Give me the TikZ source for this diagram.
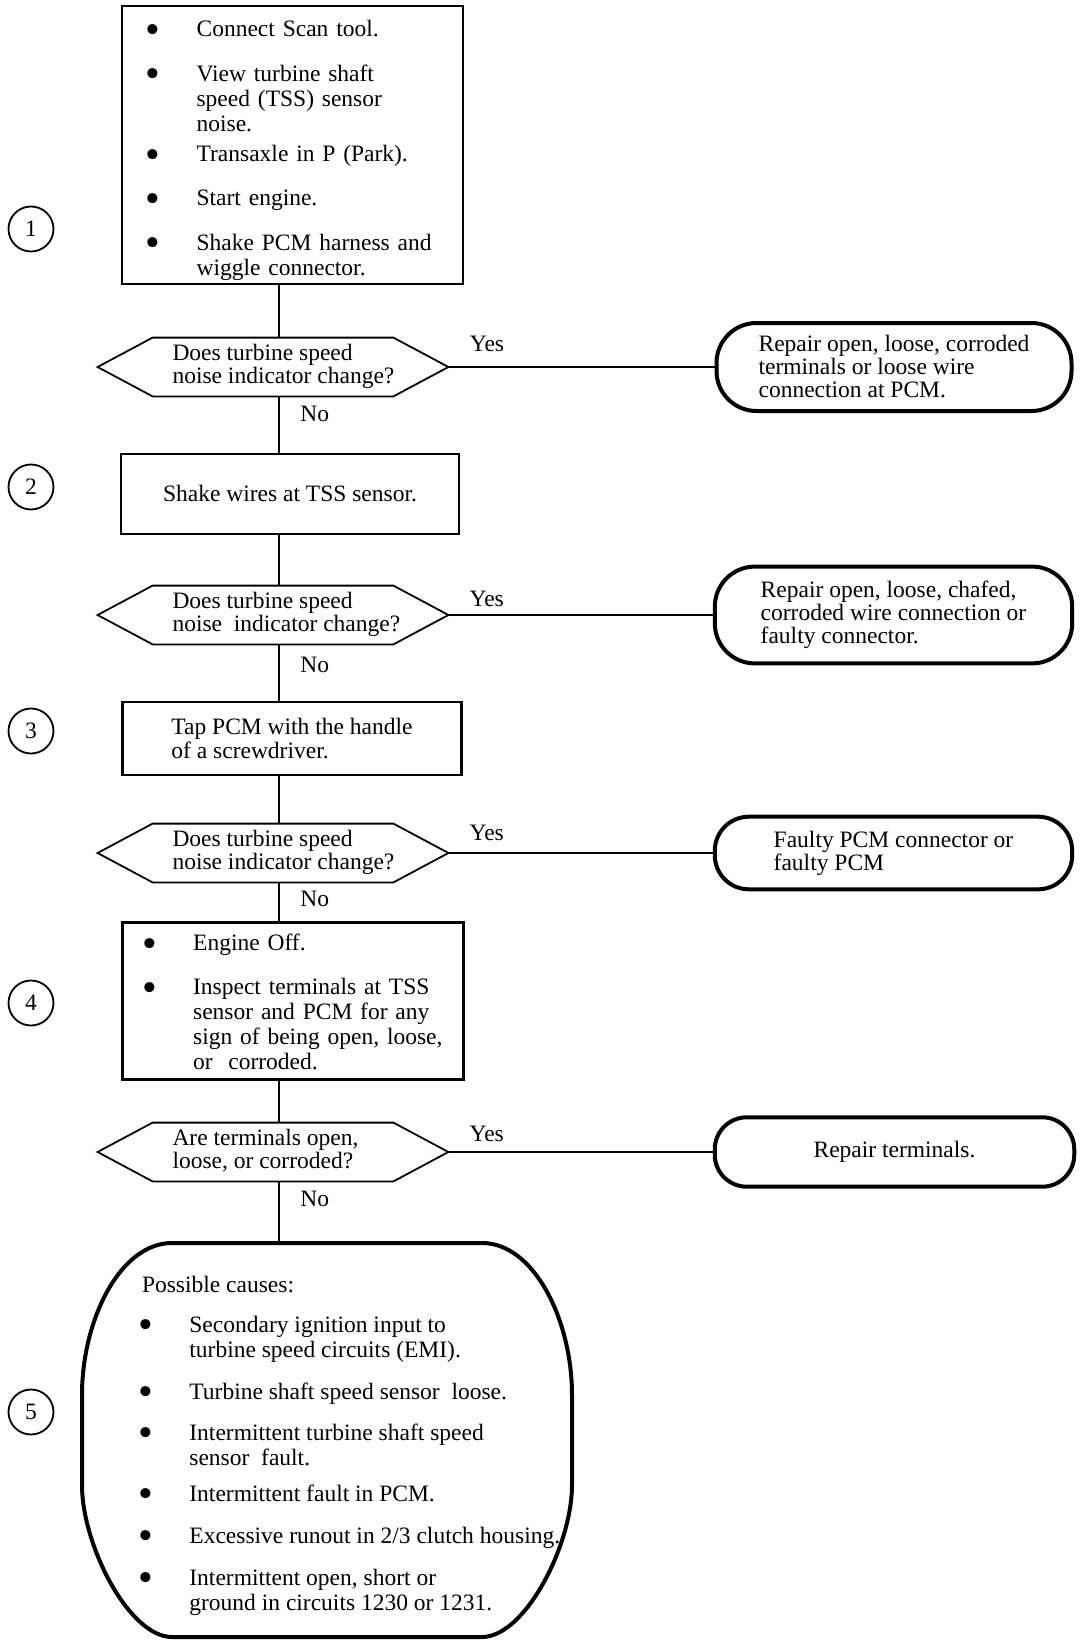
\documentclass[tikz,border=0pt]{standalone}
\usepackage{fontspec}
\setmainfont{Liberation Serif}

\newcommand{\asktext}[1]{\makebox[100.5pt][l]{\begin{tabular}{@{}l@{}}#1\end{tabular}}}
\newcommand{\blt}{\raisebox{-3.3pt}{\fontsize{21}{12}\selectfont\textbullet}}

\tikzset{
  stepbox/.style={draw, line width=1.4pt, inner ysep=0pt, align=left},
  ask/.style={minimum width=120pt, minimum height=29pt, inner sep=0pt,
    font=\fontsize{11.75}{11.5}\selectfont},
  fixbox/.style={draw, line width=2pt, inner sep=0pt, align=left,
    font=\fontsize{11.75}{11.5}\selectfont},
  num/.style={circle, draw, line width=.9pt, minimum size=22.5pt, inner sep=0pt},
  link/.style={line width=.8pt}
}

\begin{document}
\begin{tikzpicture}[x=.5pt,y=-.5pt,every node/.style={font=\fontsize{11.75}{12.5}\selectfont}]
  \useasboundingbox (0,0) rectangle (1088,1648);
  % step numbers down the left margin
  \foreach \n/\y in {1/229,2/487,3/731,4/1003,5/1412}
    \node[num] (c\n) at (31,\y) {\n};

  \node[stepbox, text width=147.5pt, inner xsep=11.5pt, minimum height=139pt] (b1) at (292.5,145) {%
    \begin{tabular}{@{}p{25.8pt}@{}l@{}}
      \blt & \rule{0pt}{14.75pt}Connect Scan tool.\\[9.6pt]
      \blt & View turbine shaft\\
           & speed (TSS) sensor\\
           & noise.\\[2.75pt]
      \blt & Transaxle in P (Park).\\[9.6pt]
      \blt & Start engine.\\[9.6pt]
      \blt & Shake PCM harness and\\
           & wiggle connector.
    \end{tabular}};
  \node[ask] (q1) at (273,367) {\asktext{Does turbine speed\\noise indicator change?}};
  \node[fixbox, minimum width=177.5pt, minimum height=44pt, rounded corners=20pt] (t1) at (894,367)
    {Repair open, loose, corroded\\terminals or loose wire\\connection at PCM.};

  \node[stepbox, minimum width=169pt, minimum height=40pt, inner xsep=0pt] (b2) at (290,494)
    {Shake wires at TSS sensor.};
  \node[ask] (q2) at (273,615) {\asktext{Does turbine speed\\noise~ indicator change?}};
  \node[fixbox, minimum width=178.7pt, minimum height=48.4pt, rounded corners=20pt] (t2) at (893.5,615)
    {Repair open, loose, chafed,\\corroded wire connection or\\faulty connector.};

  \node[stepbox, minimum width=169.25pt, minimum height=36.5pt, inner xsep=0pt,
    font=\fontsize{11.75}{12}\selectfont] (b3) at (292,738.5) {Tap PCM with the handle\\of a screwdriver.};
  \node[ask] (q3) at (273,853) {\asktext{Does turbine speed\\noise indicator change?}};
  \node[fixbox, minimum width=178.7pt, minimum height=36.3pt, rounded corners=17pt] (t3) at (893.5,853)
    {Faulty PCM connector or\\faulty PCM};

  \node[stepbox, text width=150.65pt, inner xsep=9.8pt, minimum height=78.3pt] (b4) at (293,1001) {%
    \begin{tabular}{@{}p{25.4pt}@{}l@{}}
      \blt & \rule{0pt}{12.75pt}Engine Off.\\[9.5pt]
      \blt & Inspect terminals at TSS\\
           & sensor and PCM for any\\
           & sign of being open, loose,\\
           & or~ corroded.
    \end{tabular}};
  \node[ask] (q4) at (273,1152) {\asktext{Are terminals open,\\loose, or corroded?}};
  \node[fixbox, minimum width=179.75pt, minimum height=34.7pt, rounded corners=16pt] (t4) at (894.5,1152)
    {Repair terminals.};

  \foreach \q in {q1,q2,q3,q4}
    \draw[line width=.9pt] (\q.north west) -- (\q.north east) -- ([xshift=27.5pt]\q.east)
      -- (\q.south east) -- (\q.south west) -- ([xshift=-27.5pt]\q.west) -- cycle;

  \draw[line width=2pt] (172,1243) -- (482,1243) .. controls (534,1243) and (572,1320) .. (572,1395)
    -- (572,1485) .. controls (572,1545) and (525,1637) .. (482,1637) -- (172,1637)
    .. controls (129,1637) and (82,1545) .. (82,1485) -- (82,1395)
    .. controls (82,1320) and (120,1243) .. (172,1243) -- cycle;
  \coordinate (f5top) at (279,1243);
  \node[anchor=west, inner sep=0pt, align=left] (f5) at (137.6,1446) {%
    \begin{tabular}{@{}p{25.7pt}@{}l@{}}
      \multicolumn{2}{@{\hspace{2pt}}l@{}}{Possible causes:}\\[7.5pt]
      \blt & Secondary ignition input to\\
           & turbine speed circuits (EMI).\\[8.5pt]
      \blt & Turbine shaft speed sensor~ loose.\\[8pt]
      \blt & Intermittent turbine shaft speed\\
           & sensor~ fault.\\[5.5pt]
      \blt & Intermittent fault in PCM.\\[8.5pt]
      \blt & Excessive runout in 2/3 clutch housing.\\[8.5pt]
      \blt & Intermittent open, short or\\
           & ground in circuits 1230 or 1231.
    \end{tabular}};

  \coordinate (sp) at (279,0);
  \draw[link] (b1.south -| sp) -- (q1.north -| sp);
  \draw[link] (q1.south -| sp) -- node[pos=.31, right=7pt] (n1) {No} (b2.north -| sp);
  \draw[link] ([xshift=27.5pt]q1.east) -- node[pos=.145, above=4pt] (y1) {Yes} (t1.west);
  \draw[link] (b2.south -| sp) -- (q2.north -| sp);
  \draw[link] (q2.south -| sp) -- node[pos=.36, right=7pt] (n2) {No} (b3.north -| sp);
  \draw[link] ([xshift=27.5pt]q2.east) -- node[pos=.145, above=.5pt] (y2) {Yes} (t2.west);
  \draw[link] (b3.south -| sp) -- (q3.north -| sp);
  \draw[link] (q3.south -| sp) -- node[pos=.42, right=7pt] (n3) {No} (b4.north -| sp);
  \draw[link] ([xshift=27.5pt]q3.east) -- node[pos=.145, above=2.5pt] (y3) {Yes} (t3.west);
  \draw[link] (b4.south -| sp) -- (q4.north -| sp);
  \draw[link] (q4.south -| sp) -- node[pos=.28, right=7pt] (n4) {No} (f5top);
  \draw[link] ([xshift=27.5pt]q4.east) -- node[pos=.145, above=1.5pt] (y4) {Yes} (t4.west);
\end{tikzpicture}
\end{document}
